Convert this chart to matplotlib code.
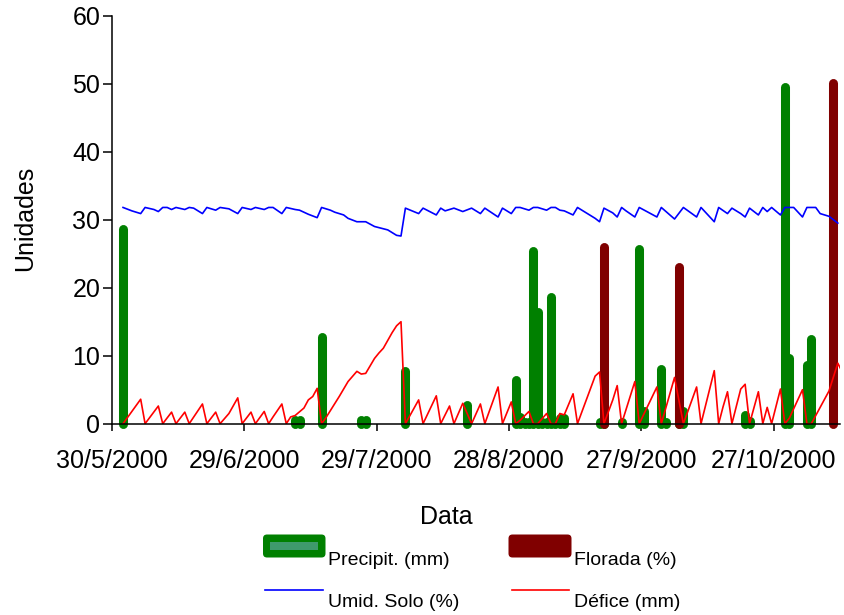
import matplotlib
matplotlib.use("Agg")
import matplotlib.pyplot as plt
import pandas as pd
from matplotlib.lines import Line2D
from matplotlib.patches import FancyBboxPatch, Rectangle
from matplotlib.transforms import IdentityTransform

plt.rcParams['font.family'] = ['Liberation Sans', 'DejaVu Sans']

# days counted from 30/5/2000
start_date = pd.Timestamp('2000-05-30')
tick_days = [0, 30, 60, 90, 120, 150]

# precipitation (mm), (day, value)
precip = [(2, 28.7), (41, 0.5), (42, 0.5), (47, 12.7), (56, 0.5), (57, 0.5),
          (66, 7.7), (80, 2.8), (91, 6.5), (92, 1.0), (93, 0.2), (94, 0.2),
          (95, 25.4), (96, 16.5), (97, 0.2), (98, 0.2), (99, 18.6), (100, 0.2),
          (101, 0.9), (102, 0.9), (110, 0.3), (111, 0.3), (115, 0.3),
          (119, 25.7), (120, 1.9), (124, 8.1), (125, 0.3), (128, 2.4),
          (129, 1.8), (143, 1.3), (144, 0.4), (152, 49.5), (153, 9.6),
          (157, 8.7), (158, 12.5)]

# flowering (%)
florada = [(111, 26.0), (128, 23.1), (163, 50.1)]

# soil moisture (%)
umid_solo = [(2, 31.8), (4, 31.3), (6, 30.9), (7, 31.8), (9, 31.5), (10, 31.2),
             (11, 31.8), (12, 31.8), (13, 31.5), (14, 31.8), (16, 31.5),
             (17, 31.8), (18, 31.7), (20, 30.9), (21, 31.8), (23, 31.4),
             (24, 31.8), (26, 31.6), (28, 30.9), (29, 31.8), (31, 31.5),
             (32, 31.8), (34, 31.5), (35, 31.8), (36, 31.8), (38, 30.9),
             (39, 31.8), (41, 31.5), (42, 31.4), (44, 30.8), (46, 30.3),
             (47, 31.8), (49, 31.4), (50, 31.1), (52, 30.7), (53, 30.2),
             (55, 29.7), (57, 29.7), (59, 29.0), (62, 28.5), (64, 27.7),
             (65, 27.6), (66, 31.7), (69, 30.9), (70, 31.7), (73, 30.7),
             (74, 31.7), (75, 31.3), (77, 31.7), (79, 31.2), (81, 31.7),
             (83, 30.9), (84, 31.7), (87, 30.4), (88, 31.7), (90, 30.9),
             (91, 31.8), (92, 31.8), (94, 31.4), (95, 31.8), (96, 31.8),
             (98, 31.4), (99, 31.8), (100, 31.8), (101, 31.4), (102, 31.3),
             (104, 30.7), (105, 31.8), (106, 31.4), (109, 30.2), (110, 29.7),
             (111, 31.7), (113, 31.0), (114, 30.4), (115, 31.8), (116, 31.3),
             (118, 30.4), (119, 31.8), (123, 30.4), (124, 31.8), (127, 30.1),
             (129, 31.8), (132, 30.4), (133, 31.8), (136, 29.7), (137, 31.8),
             (139, 30.9), (140, 31.7), (142, 30.9), (143, 30.4), (144, 31.7),
             (146, 30.7), (147, 31.8), (148, 31.2), (149, 31.8), (151, 30.7),
             (152, 31.8), (154, 31.8), (156, 30.4), (157, 31.8), (159, 31.8),
             (160, 30.9), (162, 30.5), (164, 29.5)]

# water deficit (mm)
defice = [(2, 0), (6, 3.6), (7, 0), (10, 2.6), (11, 0), (13, 1.7), (14, 0),
          (16, 1.7), (17, 0), (20, 2.9), (21, 0), (23, 1.7), (24, 0), (26, 1.5),
          (28, 3.8), (29, 0), (31, 1.7), (32, 0), (34, 1.8), (35, 0), (36, 1.0),
          (38, 2.9), (39, 0), (40, 1.0), (41, 1.2), (43, 2.3), (44, 3.5),
          (45, 4.0), (46, 5.2), (47, 0), (48, 0.9), (51, 4.0), (53, 6.2),
          (55, 7.7), (56, 7.3), (57, 7.4), (59, 9.6), (60, 10.4), (61, 11.1),
          (63, 13.4), (64, 14.4), (65, 15.0), (66, 0), (69, 3.5), (70, 0),
          (73, 4.1), (74, 0), (76, 2.6), (77, 0), (79, 3.0), (81, 0), (83, 2.9),
          (84, 0), (87, 5.4), (88, 0), (90, 3.2), (91, 0), (92, 0.5), (94, 1.8),
          (95, 0), (96, 0), (98, 1.5), (99, 0), (100, 0), (101, 1.5),
          (102, 1.3), (104, 4.4), (105, 0), (109, 7.0), (110, 7.6), (111, 0),
          (113, 3.5), (114, 5.6), (115, 0), (118, 6.2), (119, 0), (123, 5.4),
          (124, 0), (127, 6.8), (129, 0), (132, 5.4), (133, 0), (136, 7.8),
          (137, 0), (138, 2.5), (139, 4.7), (140, 0), (142, 5.1), (143, 5.8),
          (144, 0), (146, 4.7), (147, 0), (148, 2.4), (149, 0), (151, 5.1),
          (152, 0), (153, 0.8), (156, 5.0), (157, 0), (158, 0), (162, 4.8),
          (164, 8.9), (165, 7.6)]


def split(points):
    # points sit in the middle of their day
    days, vals = zip(*points)
    return [d + 0.5 for d in days], list(vals)


W, H = 845, 615
fig = plt.figure(figsize=(W / 100, H / 100), dpi=100, facecolor='white')
ax = fig.add_axes([112 / W, (H - 423.7) / H, 728 / W, 408 / H])

x, y = split(precip)
ax.vlines(x, 0, y, colors='#008000', linewidth=6.5, capstyle='round',
          zorder=2, clip_on=False)
x, y = split(florada)
ax.vlines(x, 0, y, colors='#800000', linewidth=6.5, capstyle='round',
          zorder=3, clip_on=False)
x, y = split(umid_solo)
ax.plot(x, y, color='#0000ff', linewidth=1.2, zorder=4)
x, y = split(defice)
ax.plot(x, y, color='#ff0000', linewidth=1.2, zorder=4)

ax.set_xlim(0, 165)
ax.set_ylim(0, 60)
ax.set_yticks(range(0, 61, 10))
ax.set_xticks(tick_days)
ax.set_xticklabels([f"{d.day}/{d.month}/{d.year}"
                    for d in start_date + pd.to_timedelta(tick_days, unit='D')])
ax.tick_params(axis='y', direction='out', length=6.5, width=1.1, pad=2,
               labelsize=18)
ax.tick_params(axis='x', direction='out', length=5, width=1.1, pad=13,
               labelsize=18)
for side in ('top', 'right'):
    ax.spines[side].set_visible(False)
for side in ('left', 'bottom'):
    ax.spines[side].set_linewidth(1.1)
    ax.spines[side].set_zorder(5)

fig.text(446 / W, 1 - 517 / H, 'Data', fontsize=18, ha='center', va='center')
fig.text(25 / W, 1 - 218 / H, 'Unidades', fontsize=18, ha='center',
         va='center', rotation=90)

# legend, laid out in pixels (origin bottom-left)
px = IdentityTransform()
fig.add_artist(FancyBboxPatch((263, H - 557.5), 62.5, 23,
                              boxstyle='round,pad=0,rounding_size=4',
                              fc='#008000', ec='none', transform=px))
fig.add_artist(Rectangle((270, H - 550), 48.3, 8.3, fc='#3f9a6c', ec='none',
                         transform=px))
fig.add_artist(FancyBboxPatch((508.5, H - 557.5), 63, 23,
                              boxstyle='round,pad=0,rounding_size=4',
                              fc='#800000', ec='none', transform=px))
fig.add_artist(Line2D([265, 322.7], [H - 589.7] * 2, color='#0000ff',
                      linewidth=1.2, transform=px))
fig.add_artist(Line2D([511.7, 569], [H - 589.7] * 2, color='#ff0000',
                      linewidth=1.2, transform=px))
fig.text(328 / W, 1 - 565 / H, 'Precipit. (mm)', fontsize=14, va='baseline')
fig.text(574 / W, 1 - 565 / H, 'Florada (%)', fontsize=14, va='baseline')
fig.text(328 / W, 1 - 607 / H, 'Umid. Solo (%)', fontsize=14, va='baseline')
fig.text(574 / W, 1 - 607 / H, 'Défice (mm)', fontsize=14, va='baseline')

fig.savefig('out.png', dpi=100)
